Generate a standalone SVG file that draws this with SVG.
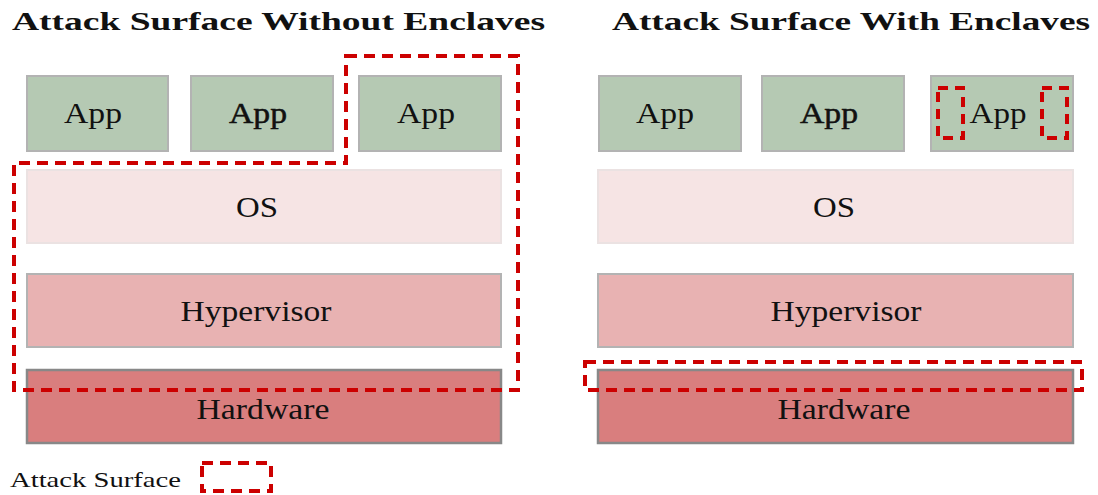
<svg xmlns="http://www.w3.org/2000/svg" width="1098" height="495" viewBox="0 0 1098 495">
<style>
.t{font-family:"Liberation Serif","DejaVu Serif",serif;font-weight:bold;font-size:25px;fill:#111}
.l{font-family:"Liberation Serif","DejaVu Serif",serif;font-size:29px;fill:#111;text-anchor:middle}
.b{stroke:#111;stroke-width:0.5}
.app{fill:#b5c9b3;stroke:#b3b3b3;stroke-width:2}
.os{fill:#f6e4e4;stroke:#ebe2e2;stroke-width:2}
.hv{fill:#e8b2b2;stroke:#b3b3b3;stroke-width:2}
.hw{fill:#d97e7e;stroke:#888;stroke-width:2.5}
.as{fill:none;stroke:#cc0000;stroke-width:4;stroke-dasharray:11 7}
.en{fill:none;stroke:#cc0000;stroke-width:4;stroke-dasharray:10 7}
</style>
<text class="t" x="12" y="30" textLength="533" lengthAdjust="spacingAndGlyphs">Attack Surface Without Enclaves</text>
<text class="t" x="612" y="30" textLength="478" lengthAdjust="spacingAndGlyphs">Attack Surface With Enclaves</text>
<g id="left-app1"><rect class="app" x="27" y="76" width="141" height="75"/><text class="l" x="93" y="123" textLength="58" lengthAdjust="spacingAndGlyphs">App</text></g>
<g id="left-app2"><rect class="app" x="191" y="76" width="142" height="75"/><text class="l b" x="258" y="123" textLength="58" lengthAdjust="spacingAndGlyphs">App</text></g>
<g id="left-app3"><rect class="app" x="359" y="76" width="142" height="75"/><text class="l" x="426" y="123" textLength="58" lengthAdjust="spacingAndGlyphs">App</text></g>
<g id="left-os"><rect class="os" x="27" y="170" width="474" height="73"/><text class="l" x="257" y="217" textLength="42" lengthAdjust="spacingAndGlyphs">OS</text></g>
<g id="left-hv"><rect class="hv" x="27" y="274" width="474" height="73"/><text class="l" x="256" y="321" textLength="151" lengthAdjust="spacingAndGlyphs">Hypervisor</text></g>
<g id="left-hw"><rect class="hw" x="27" y="370" width="474" height="73"/><text class="l" x="263" y="419" textLength="133" lengthAdjust="spacingAndGlyphs">Hardware</text></g>
<g id="right-app1"><rect class="app" x="599" y="76" width="142" height="75"/><text class="l" x="665" y="123" textLength="58" lengthAdjust="spacingAndGlyphs">App</text></g>
<g id="right-app2"><rect class="app" x="762" y="76" width="142" height="75"/><text class="l b" x="829" y="123" textLength="58" lengthAdjust="spacingAndGlyphs">App</text></g>
<g id="right-app3"><rect class="app" x="931" y="76" width="142" height="75"/><text class="l" x="998" y="123" textLength="57" lengthAdjust="spacingAndGlyphs">App</text></g>
<g id="right-os"><rect class="os" x="598" y="170" width="475" height="73"/><text class="l" x="834" y="217" textLength="42" lengthAdjust="spacingAndGlyphs">OS</text></g>
<g id="right-hv"><rect class="hv" x="598" y="274" width="475" height="73"/><text class="l" x="846" y="321" textLength="151" lengthAdjust="spacingAndGlyphs">Hypervisor</text></g>
<g id="right-hw"><rect class="hw" x="598" y="370" width="475" height="73"/><text class="l" x="844" y="419" textLength="133" lengthAdjust="spacingAndGlyphs">Hardware</text></g>
<g id="connectors">
<path class="as" d="M346,56 H518 V390 H14 V163 H346 Z"/>
<rect class="as" x="585" y="362" width="497" height="28"/>
<rect class="en" x="938" y="88" width="25" height="50"/>
<rect class="en" x="1042" y="88" width="25" height="50"/>
</g>
<g id="legend">
<text x="10" y="487" textLength="171" lengthAdjust="spacingAndGlyphs" style="font-family:'Liberation Serif','DejaVu Serif',serif;font-size:22px;fill:#111">Attack Surface</text>
<rect class="as" x="202" y="463" width="69" height="28"/>
</g>
</svg>
